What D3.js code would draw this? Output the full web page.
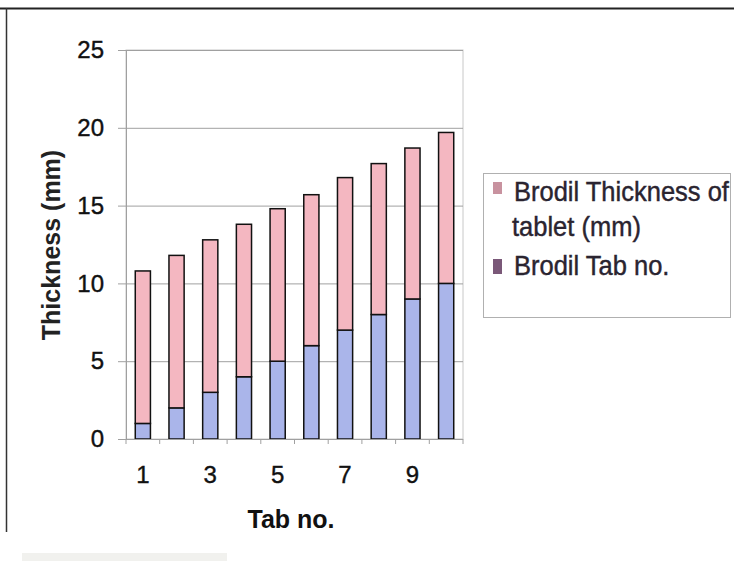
<!DOCTYPE html>
<html>
<head>
<meta charset="utf-8">
<script src="https://cdn.jsdelivr.net/npm/d3@7/dist/d3.min.js"></script>
<style>
  html, body { margin: 0; padding: 0; background: #fff; }
  svg { display: block; font-family: Arial, "Liberation Sans", sans-serif; }
</style>
</head>
<body>
<svg id="chart" width="734" height="561"></svg>
<script>
// Tablet stack: tab number (bottom) plus tablet thickness (top)
const categories = ["1", "2", "3", "4", "5", "6", "7", "8", "9", "10"];
const tabNo = [1, 2, 3, 4, 5, 6, 7, 8, 9, 10];
const thickness = [9.8, 9.8, 9.8, 9.8, 9.8, 9.7, 9.8, 9.7, 9.7, 9.7];
const yTicks = [0, 5, 10, 15, 20, 25];
const xTickLabels = ["1", "3", "5", "7", "9"];
const seriesNames = ["Brodil Thickness of", "tablet (mm)", "Brodil Tab no."];

const svg = d3.select("#chart");

const plot = { left: 126, right: 463, top: 50, bottom: 439 };

const x = d3.scaleBand()
  .domain(categories)
  .range([plot.left, plot.right])
  .paddingInner(0.55)
  .paddingOuter(0.275);

const y = d3.scaleLinear()
  .domain([0, 25])
  .range([plot.bottom, plot.top]);

// outer frame lines
svg.append("line").attr("x1", 0).attr("x2", 734).attr("y1", 8.5).attr("y2", 8.5)
  .attr("stroke", "#222").attr("stroke-width", 2);
svg.append("line").attr("x1", 6.5).attr("x2", 6.5).attr("y1", 8).attr("y2", 532)
  .attr("stroke", "#333").attr("stroke-width", 1.5);
svg.append("rect").attr("x", 22).attr("y", 553).attr("width", 205).attr("height", 8)
  .attr("fill", "#f1f1ee");

// plot area border
svg.append("rect")
  .attr("x", plot.left).attr("y", plot.top)
  .attr("width", plot.right - plot.left).attr("height", plot.bottom - plot.top)
  .attr("fill", "#fff").attr("stroke", "#c8c8c8").attr("stroke-width", 1);

// horizontal gridlines with outward ticks
svg.append("g").selectAll("line").data(yTicks).join("line")
  .attr("x1", plot.left - 8).attr("x2", plot.right)
  .attr("y1", d => y(d) + 0.5).attr("y2", d => y(d) + 0.5)
  .attr("stroke", "#a0a0a0").attr("stroke-width", 1);

// y axis via d3.axisLeft, labels only
const yAxis = svg.append("g")
  .attr("transform", `translate(${plot.left},0)`)
  .call(d3.axisLeft(y).tickValues(yTicks).tickSize(0).tickPadding(22));
yAxis.select(".domain").attr("stroke", "#a0a0a0");
yAxis.selectAll("text")
  .attr("font-size", 24).attr("fill", "#111")
  .attr("stroke", "#111").attr("stroke-width", 0.4)
  .attr("font-family", "Arial, 'Liberation Sans', sans-serif");

// stacked bars
const rows = categories.map((c, i) => ({ cat: c, tab: tabNo[i], thick: thickness[i] }));
const stack = d3.stack().keys(["tab", "thick"])(rows);
const fills = { tab: "#aab5ea", thick: "#f4b7c1" };

svg.append("g").selectAll("g").data(stack).join("g")
  .attr("fill", d => fills[d.key])
  .selectAll("rect").data(d => d).join("rect")
  .attr("x", d => x(d.data.cat))
  .attr("y", d => y(d[1]))
  .attr("width", x.bandwidth())
  .attr("height", d => y(d[0]) - y(d[1]))
  .attr("stroke", "#111").attr("stroke-width", 1.5);

// x axis baseline, boundary ticks and odd labels
const step = x.step();
const boundaries = categories.map(c => x(c) - step * x.paddingInner() / 2);
boundaries.push(plot.right);
svg.append("line").attr("x1", plot.left).attr("x2", plot.right)
  .attr("y1", plot.bottom + 0.5).attr("y2", plot.bottom + 0.5)
  .attr("stroke", "#a0a0a0");
svg.append("g").selectAll("line").data(boundaries).join("line")
  .attr("x1", d => d).attr("x2", d => d)
  .attr("y1", plot.bottom).attr("y2", plot.bottom + 5)
  .attr("stroke", "#a0a0a0");
svg.append("g").selectAll("text").data(xTickLabels).join("text")
  .attr("x", d => x(d) + x.bandwidth() / 2)
  .attr("y", 483)
  .attr("text-anchor", "middle")
  .attr("font-size", 24).attr("fill", "#111")
  .attr("stroke", "#111").attr("stroke-width", 0.4)
  .text(d => d);

// axis titles
svg.append("text")
  .attr("x", 291).attr("y", 528)
  .attr("text-anchor", "middle")
  .attr("font-size", 25).attr("font-weight", "bold").attr("fill", "#111")
  .text("Tab no.");
svg.append("text")
  .attr("transform", "translate(60,245) rotate(-90)")
  .attr("text-anchor", "middle")
  .attr("font-size", 25).attr("font-weight", "bold").attr("fill", "#222")
  .text("Thickness (mm)");

// legend
const lg = svg.append("g");
lg.append("rect")
  .attr("x", 483.5).attr("y", 173.5).attr("width", 247).attr("height", 144)
  .attr("fill", "#fff").attr("stroke", "#b0b0b0");
lg.append("rect").attr("x", 493).attr("y", 182).attr("width", 9).attr("height", 12)
  .attr("fill", "#c8929f");
lg.append("rect").attr("x", 493).attr("y", 259).attr("width", 9).attr("height", 15)
  .attr("fill", "#7a5878");
const legendRows = [
  { text: seriesNames[0], x: 514, y: 201 },
  { text: seriesNames[1], x: 512, y: 236 },
  { text: seriesNames[2], x: 514, y: 275 }
];
lg.selectAll("text.item").data(legendRows).join("text")
  .attr("class", "item")
  .attr("transform", d => `translate(${d.x},${d.y}) scale(1,1.1)`)
  .attr("font-size", 25.5).attr("fill", "#2a2430")
  .attr("stroke", "#2a2430").attr("stroke-width", 0.4)
  .text(d => d.text);
</script>
</body>
</html>
